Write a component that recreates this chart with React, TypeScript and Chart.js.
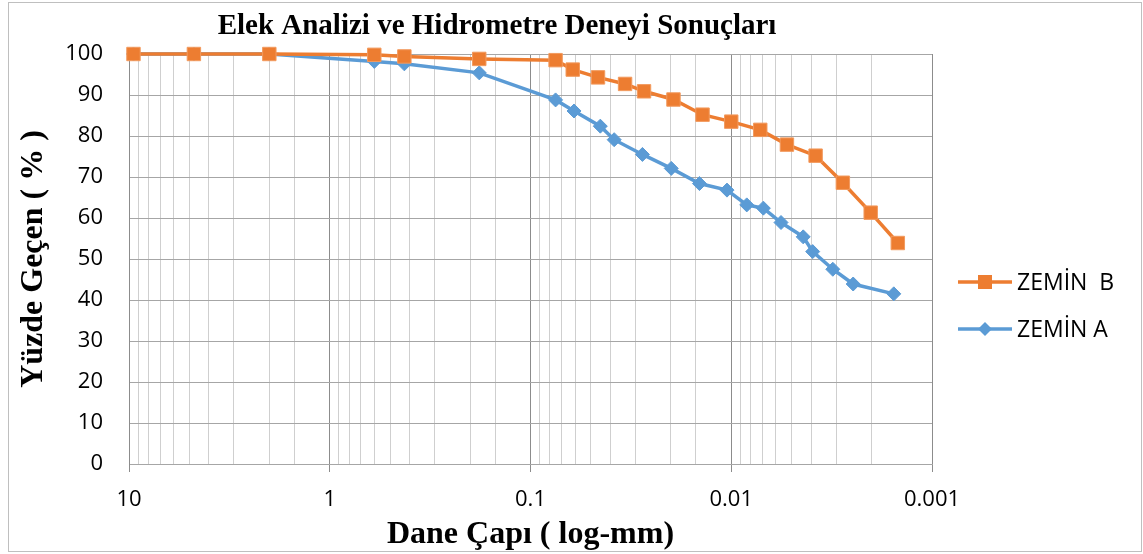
import React, { useEffect, useRef } from 'react';
import { Chart, registerables } from 'chart.js';

Chart.register(...registerables);

const TITLE = 'Elek Analizi ve Hidrometre Deneyi Sonuçları';
const X_TITLE = 'Dane Çapı ( log-mm)';
const Y_TITLE = 'Yüzde Geçen ( % )';
const SERIES_NAMES = ['ZEMİN  B', 'ZEMİN A'];
const SERIES_COLORS = ['#ED7D31', '#5B9BD5'];
const X_TICK_LABELS = ['0.001', '0.01', '0.1', '1', '10'];

const zeminBDiameters = [9.5, 4.75, 2.0, 0.6, 0.425, 0.18, 0.075, 0.0616, 0.0461, 0.0338, 0.0272, 0.0194, 0.0139, 0.01, 0.00717, 0.00528, 0.0038, 0.00278, 0.00202, 0.00148];
const zeminBPassing = [100, 100, 100, 99.8, 99.4, 98.8, 98.5, 96.2, 94.3, 92.7, 90.9, 88.9, 85.2, 83.5, 81.5, 77.9, 75.2, 68.6, 61.3, 53.9];

const zeminADiameters = [9.5, 4.75, 2.0, 0.6, 0.425, 0.18, 0.075, 0.0607, 0.0449, 0.0383, 0.0277, 0.0199, 0.0144, 0.0105, 0.00837, 0.00692, 0.00565, 0.00438, 0.00393, 0.00312, 0.00247, 0.00155];
const zeminAPassing = [100, 100, 100, 98.2, 97.6, 95.4, 88.8, 86.1, 82.4, 79.1, 75.5, 72.1, 68.4, 66.8, 63.2, 62.4, 58.9, 55.4, 51.8, 47.5, 43.9, 41.5];

const isMajor = (v: number) => {
  if (!v || v <= 0) return false;
  const l = Math.log10(v);
  return Math.abs(l - Math.round(l)) < 1e-6;
};

const decorPlugin = {
  id: 'decor',
  beforeDraw(chart: any) {
    const ctx = chart.ctx;
    ctx.save();
    ctx.fillStyle = '#ffffff';
    ctx.fillRect(0, 0, chart.width, chart.height);
    ctx.strokeStyle = '#bfbfbf';
    ctx.lineWidth = 1;
    ctx.strokeRect(8.5, 2.5, 1133, 549);
    ctx.restore();
  },
  afterDraw(chart: any) {
    const ctx = chart.ctx;
    ctx.save();
    // title
    ctx.fillStyle = '#000';
    ctx.font = 'bold 29px "Liberation Serif"';
    ctx.textAlign = 'center';
    ctx.textBaseline = 'alphabetic';
    ctx.fillText(TITLE, 497, 34);
    // legend
    const rows = [282, 329];
    chart.data.datasets.forEach((ds: any, i: number) => {
      const y = rows[i];
      ctx.strokeStyle = ds.borderColor;
      ctx.lineWidth = 3.5;
      ctx.beginPath();
      ctx.moveTo(958, y);
      ctx.lineTo(1012, y);
      ctx.stroke();
      ctx.fillStyle = ds.borderColor;
      ctx.beginPath();
      if (ds.pointStyle === 'rect') {
        ctx.rect(985 - 7, y - 7, 14, 14);
      } else {
        ctx.moveTo(985, y - 7);
        ctx.lineTo(992, y);
        ctx.lineTo(985, y + 7);
        ctx.lineTo(978, y);
        ctx.closePath();
      }
      ctx.fill();
      ctx.fillStyle = '#000';
      ctx.font = '23px "Open Sans"';
      ctx.textAlign = 'left';
      ctx.textBaseline = 'alphabetic';
      ctx.fillText(ds.label, 1017, y + 8);
    });
    ctx.restore();
  },
};

export default function App() {
  const ref = useRef<HTMLCanvasElement | null>(null);
  useEffect(() => {
    document.body.style.margin = '0';
    const canvas = ref.current;
    if (!canvas) return;
    const gridColor = '#a6a6a6';
    const majorColor = '#8c8c8c';
    const minorColor = '#cfcfcf';
    const chart = new Chart(canvas, {
      type: 'line',
      data: {
        datasets: [
          {
            label: SERIES_NAMES[0],
            data: zeminBDiameters.map((x, i) => ({ x, y: zeminBPassing[i] })),
            borderColor: SERIES_COLORS[0],
            backgroundColor: SERIES_COLORS[0],
            borderWidth: 3.5,
            pointStyle: 'rect',
            pointRadius: 9.5,
            pointBorderWidth: 1,
            pointBorderColor: '#F29A5E',
            pointBackgroundColor: SERIES_COLORS[0],
            tension: 0,
            clip: false,
          } as any,
          {
            label: SERIES_NAMES[1],
            data: zeminADiameters.map((x, i) => ({ x, y: zeminAPassing[i] })),
            borderColor: SERIES_COLORS[1],
            backgroundColor: SERIES_COLORS[1],
            borderWidth: 3.5,
            pointStyle: 'rectRot',
            pointRadius: 7,
            pointBorderWidth: 1,
            pointBorderColor: SERIES_COLORS[1],
            pointBackgroundColor: SERIES_COLORS[1],
            tension: 0,
            clip: false,
          } as any,
        ],
      },
      options: {
        responsive: false,
        animation: false,
        devicePixelRatio: 1,
        layout: { padding: { left: 0, right: 211, top: 54, bottom: 0 } },
        plugins: {
          legend: { display: false },
          title: { display: false },
          tooltip: { enabled: false },
        },
        scales: {
          x: {
            type: 'logarithmic',
            reverse: true,
            min: 0.001,
            max: 10,
            afterFit: (s: any) => {
              s.height = 90;
            },
            grid: {
              color: (c: any) => (c.tick && isMajor(c.tick.value) ? majorColor : minorColor),
              tickColor: (c: any) => (c.tick && isMajor(c.tick.value) ? majorColor : 'rgba(0,0,0,0)'),
              tickLength: 8,
              drawTicks: true,
              lineWidth: 1,
            },
            border: { display: true, color: gridColor },
            ticks: {
              autoSkip: false,
              maxRotation: 0,
              minRotation: 0,
              padding: 15,
              color: '#000',
              font: { family: 'Open Sans', size: 22 },
              callback: (v: any) => {
                const n = Number(v);
                return isMajor(n) ? X_TICK_LABELS[Math.round(Math.log10(n)) + 3] : '';
              },
            },
            title: {
              display: true,
              text: X_TITLE,
              color: '#000',
              font: { family: 'Liberation Serif', size: 32, weight: 'bold' },
              padding: { top: 0, bottom: 0 },
            },
          } as any,
          y: {
            min: 0,
            max: 100,
            afterFit: (s: any) => {
              s.width = 129;
            },
            grid: { color: gridColor, drawTicks: false, lineWidth: 1 },
            border: { display: true, color: majorColor },
            ticks: {
              stepSize: 10,
              padding: 26,
              color: '#000',
              font: { family: 'Open Sans', size: 22 },
            },
            title: {
              display: true,
              text: Y_TITLE,
              color: '#000',
              font: { family: 'Liberation Serif', size: 32, weight: 'bold' },
              padding: { top: 15, bottom: 0 },
            },
          } as any,
        },
      },
      plugins: [decorPlugin],
    });
    const fontsToLoad = [
      '22px "Open Sans"',
      '23px "Open Sans"',
      'bold 29px "Liberation Serif"',
      'bold 32px "Liberation Serif"',
    ];
    Promise.all(fontsToLoad.map((f) => (document as any).fonts.load(f)))
      .then(() => chart.update())
      .catch(() => {});
    return () => chart.destroy();
  }, []);
  return (
    <div style={{ width: 1143, height: 554 }}>
      <canvas ref={ref} width={1143} height={554} style={{ width: 1143, height: 554, display: 'block' }} />
    </div>
  );
}
